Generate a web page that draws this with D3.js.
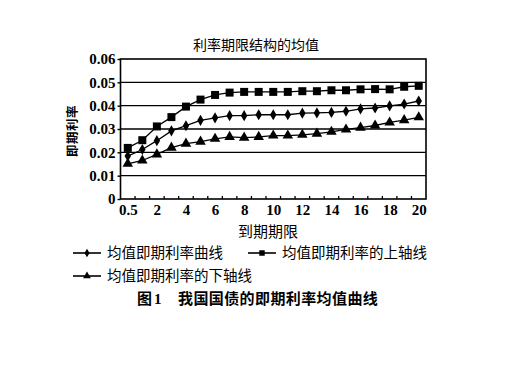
<!DOCTYPE html>
<html><head><meta charset="utf-8">
<script src="https://cdn.jsdelivr.net/npm/d3@7"></script>
<style>
html,body{margin:0;padding:0;background:#fff;}
svg{display:block;}
</style></head>
<body>
<script>
const categories = ["0.5","1","2","3","4","5","6","7","8","9","10","11","12","13","14","15","16","17","18","19","20"];
const xTickLabels = ["0.5","2","4","6","8","10","12","14","16","18","20"];
const yTicks = [0,0.01,0.02,0.03,0.04,0.05,0.06];
const meanCurve  = [0.0184,0.0212,0.0250,0.0292,0.0314,0.0337,0.0348,0.0357,0.0357,0.0361,0.0361,0.0361,0.0368,0.0369,0.0371,0.0376,0.0386,0.0390,0.0399,0.0407,0.0420];
const upperCurve = [0.0219,0.0252,0.0311,0.0351,0.0396,0.0426,0.0446,0.0456,0.0459,0.0459,0.0459,0.0459,0.0462,0.0462,0.0466,0.0466,0.0470,0.0471,0.0470,0.0481,0.0485];
const lowerCurve = [0.0151,0.0165,0.0191,0.0220,0.0237,0.0246,0.0258,0.0266,0.0263,0.0266,0.0272,0.0272,0.0275,0.0280,0.0288,0.0298,0.0306,0.0315,0.0328,0.0338,0.0350];
const seriesNames = ["均值即期利率曲线","均值即期利率的上轴线","均值即期利率的下轴线"];

const W=512,H=384;
const svg=d3.select("body").append("svg").attr("width",W).attr("height",H);
const L=120.5,R=426,T=59,B=199;
const x=d3.scalePoint().domain(categories).range([L,R]).padding(0.5);
const y=d3.scaleLinear().domain([0,0.06]).range([B,T]);
const numFont="'Liberation Serif','Times New Roman',serif";
const cjk="'Noto Sans CJK SC','Noto Sans',sans-serif";

// gridlines
svg.append("g").selectAll("line").data(yTicks.filter(d=>d>0&&d<0.06)).join("line")
  .attr("x1",L).attr("x2",R).attr("y1",d=>y(d)).attr("y2",d=>y(d))
  .attr("stroke","#000").attr("stroke-width",1.4);
// frame
svg.append("rect").attr("x",L).attr("y",T).attr("width",R-L).attr("height",B-T)
  .attr("fill","none").attr("stroke","#000").attr("stroke-width",1.6);

// y axis
const ya=svg.append("g").attr("transform",`translate(${L},0)`)
  .call(d3.axisLeft(y).tickValues(yTicks).tickSize(3).tickPadding(2)
    .tickFormat(d=>d===0?"0":d3.format(".2f")(d)));
ya.select(".domain").remove();
ya.selectAll("line").attr("stroke","#000").attr("stroke-width",1.4);
ya.selectAll("text").attr("font-family",numFont).attr("font-weight","bold").attr("font-size",15).attr("fill","#000");

// x axis
const xa=svg.append("g").attr("transform",`translate(0,${B})`)
  .call(d3.axisBottom(x).tickValues(xTickLabels).tickSize(0).tickPadding(5));
xa.select(".domain").remove();
xa.selectAll("text").attr("font-family",numFont).attr("font-weight","bold").attr("font-size",15).attr("fill","#000");
// inner tick marks between categories
const step=x.step();
svg.append("g").selectAll("line").data(categories.slice(0,-1)).join("line")
  .attr("x1",d=>x(d)+step/2).attr("x2",d=>x(d)+step/2)
  .attr("y1",B).attr("y2",B-3).attr("stroke","#000").attr("stroke-width",1.3);

// series
const line=d3.line().x((d,i)=>x(categories[i])).y(d=>y(d));
const sets=[
  {data:upperCurve,shape:d3.symbolSquare,size:64},
  {data:meanCurve,shape:d3.symbolDiamond,size:36},
  {data:lowerCurve,shape:d3.symbolTriangle,size:48}
];
sets.forEach(s=>{
  svg.append("path").attr("d",line(s.data)).attr("fill","none").attr("stroke","#000").attr("stroke-width",1.3);
  svg.append("g").selectAll("path").data(s.data).join("path")
    .attr("transform",(d,i)=>`translate(${x(categories[i])},${y(d)})`)
    .attr("d",d3.symbol().type(s.shape).size(s.size)).attr("fill","#000");
});

// titles
svg.append("text").attr("x",256).attr("y",50).attr("text-anchor","middle")
  .attr("font-family",cjk).attr("font-size",14).attr("fill","#000").text("利率期限结构的均值");
svg.append("text").attr("transform","translate(77,131) rotate(-90)").attr("text-anchor","middle")
  .attr("font-family",cjk).attr("font-size",12.5).attr("font-weight","bold").attr("letter-spacing",0.5).attr("fill","#000").text("即期利率");
svg.append("text").attr("x",268).attr("y",237).attr("text-anchor","middle")
  .attr("font-family",cjk).attr("font-size",15).attr("fill","#000").text("到期期限");

// legend
const leg=[
  {x:73,y:253,shape:d3.symbolDiamond,size:22,name:seriesNames[0]},
  {x:248,y:253,shape:d3.symbolSquare,size:30,name:seriesNames[1]},
  {x:73,y:276,shape:d3.symbolTriangle,size:26,name:seriesNames[2]}
];
leg.forEach(l=>{
  svg.append("line").attr("x1",l.x).attr("x2",l.x+28).attr("y1",l.y).attr("y2",l.y).attr("stroke","#000").attr("stroke-width",1.6);
  svg.append("path").attr("transform",`translate(${l.x+14},${l.y})`).attr("d",d3.symbol().type(l.shape).size(l.size)).attr("fill","#000");
  svg.append("text").attr("x",l.x+34).attr("y",l.y+5).attr("font-family",cjk).attr("font-size",14.5).attr("fill","#000").text(l.name);
});
svg.append("text").attr("x",137).attr("y",304).attr("font-family",cjk).attr("font-size",15).attr("font-weight","bold").attr("fill","#000").text("图");
svg.append("text").attr("x",154).attr("y",304).attr("font-family",numFont).attr("font-size",15).attr("font-weight","bold").attr("fill","#000").text("1");
svg.append("text").attr("x",178).attr("y",304).attr("font-family",cjk).attr("font-size",15).attr("font-weight","bold").attr("letter-spacing",0.4).attr("fill","#000").text("我国国债的即期利率均值曲线");
</script>
</body></html>
